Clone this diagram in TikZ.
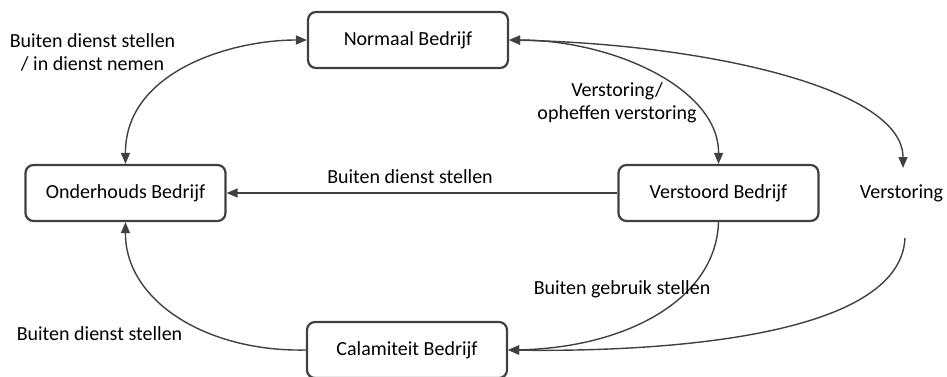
\documentclass[tikz,border=0pt]{standalone}
\usepackage{fontspec}
\setmainfont{Carlito}
\usetikzlibrary{arrows.meta}
\definecolor{ink}{HTML}{404040}
\tikzset{
  state/.style={draw=ink, line width=2.2pt, rounded corners=8pt, minimum width=200pt,
    minimum height=56pt, fill=white, text=black, font=\fontsize{20}{23}\selectfont},
  lbl/.style={text=black, font=\fontsize{20}{23}\selectfont, align=center, inner sep=1pt},
  conn/.style={draw=ink, line width=1.4pt, -{Triangle[length=11pt,width=9pt]}},
  both/.style={conn, {Triangle[length=11pt,width=9pt]}-{Triangle[length=11pt,width=9pt]}}
}
\begin{document}
\begin{tikzpicture}[x=1pt,y=-1pt]
  \useasboundingbox (0,0) rectangle (947,376);

  % states
  \node[state] (nb) at (408,40) {Normaal Bedrijf};
  \node[state] (ob) at (125.5,193) {Onderhouds Bedrijf};
  \node[state] (vb) at (718.5,193) {Verstoord Bedrijf};
  \node[state] (cb) at (407,350) {Calamiteit Bedrijf};

  % free ends around the "Verstoring" label
  \node[lbl] (vl) at (901.5,193) {Verstoring};
  \coordinate (vtop) at (903,168);
  \coordinate (vbot) at (905,238);

  % transitions
  \draw[both] (nb.west) .. controls (230,40) and (125,72) .. (ob.north);
  \draw[both] (nb.east) .. controls (612,40) and (719,88) .. (vb.north);
  \draw[both] (nb.east) .. controls (705,44) and (903,88) .. (vtop);
  \draw[conn] (vbot) .. controls (900,340) and (650,352) .. (cb.east);
  \draw[conn] (vb.west) -- (ob.east);
  \draw[conn] (vb.south) .. controls (716,300) and (625,348) .. (cb.east);
  \draw[conn] (cb.west) .. controls (205,352) and (125,300) .. (ob.south);

  % transition labels
  \node[lbl] (l1) at (92.5,52) {Buiten dienst stellen\\/ in dienst nemen};
  \node[lbl] (l2) at (617,103) {Verstoring/\\opheffen verstoring};
  \node[lbl] (l3) at (410,177) {Buiten dienst stellen};
  \node[lbl] (l4) at (622,289) {Buiten gebruik stellen};
  \node[lbl] (l5) at (99.5,334) {Buiten dienst stellen};
\end{tikzpicture}
\end{document}
